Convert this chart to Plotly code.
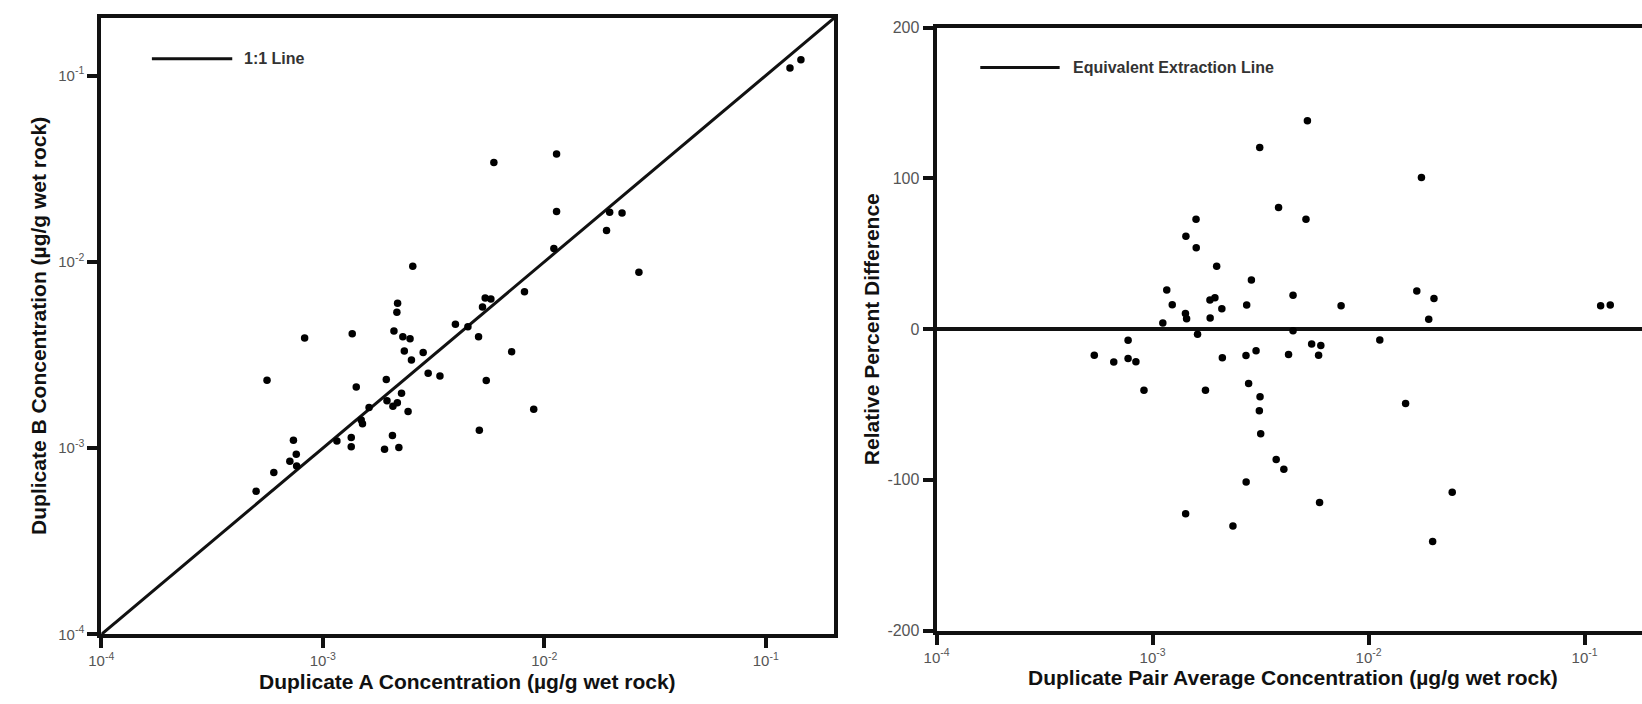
import plotly.graph_objects as go

# ---- Duplicate extraction results (µg/g wet rock) ----
dup_a = [5.0e-4, 6.01e-4, 7.10e-4, 7.62e-4, 7.59e-4, 7.37e-4, 5.60e-4, 8.28e-4,
         1.158e-3, 1.344e-3, 1.344e-3, 1.358e-3, 1.416e-3, 1.491e-3, 1.511e-3, 1.618e-3,
         1.900e-3, 1.935e-3, 1.949e-3, 2.063e-3, 2.073e-3, 2.171e-3, 2.205e-3, 2.267e-3,
         2.427e-3, 2.095e-3, 2.176e-3, 2.160e-3, 2.298e-3, 2.477e-3, 2.334e-3, 2.513e-3,
         2.548e-3, 2.839e-3, 2.99e-3, 3.38e-3, 3.97e-3, 4.52e-3, 5.05e-3, 5.09e-3,
         5.26e-3, 5.41e-3, 5.74e-3, 5.47e-3, 5.92e-3, 7.12e-3, 8.14e-3, 8.96e-3,
         1.105e-2, 1.136e-2, 1.136e-2, 1.91e-2, 1.973e-2, 2.244e-2, 2.674e-2, 0.1286, 0.1441]
dup_b = [5.87e-4, 7.40e-4, 8.52e-4, 8.02e-4, 9.27e-4, 1.104e-3, 2.314e-3, 3.90e-3,
         1.093e-3, 1.141e-3, 1.017e-3, 4.11e-3, 2.127e-3, 1.418e-3, 1.354e-3, 1.652e-3,
         9.88e-4, 2.333e-3, 1.797e-3, 1.169e-3, 1.678e-3, 1.754e-3, 1.009e-3, 1.971e-3,
         1.574e-3, 4.26e-3, 5.99e-3, 5.37e-3, 3.963e-3, 3.87e-3, 3.32e-3, 2.97e-3,
         9.46e-3, 3.26e-3, 2.527e-3, 2.437e-3, 4.63e-3, 4.49e-3, 3.96e-3, 1.249e-3,
         5.72e-3, 6.40e-3, 6.31e-3, 2.306e-3, 3.41e-2, 3.29e-3, 6.90e-3, 1.616e-3,
         1.179e-2, 3.79e-2, 1.864e-2, 1.474e-2, 1.845e-2, 1.83e-2, 8.80e-3, 0.1099, 0.1214]

# ---- Pair average concentration and relative percent difference ----
pair_avg = [5.37e-4, 6.61e-4, 7.70e-4, 8.37e-4, 7.70e-4, 9.12e-4, 1.115e-3, 1.163e-3,
            1.233e-3, 1.419e-3, 1.437e-3, 1.426e-3, 1.589e-3, 1.592e-3, 1.615e-3, 1.422e-3,
            1.757e-3, 1.843e-3, 1.943e-3, 1.847e-3, 1.980e-3, 2.092e-3, 2.103e-3, 2.355e-3,
            2.726e-3, 2.706e-3, 3.013e-3, 2.783e-3, 2.867e-3, 3.133e-3, 3.144e-3, 3.12e-3,
            3.166e-3, 2.711e-3, 3.735e-3, 4.052e-3, 3.83e-3, 4.26e-3, 4.47e-3, 4.47e-3,
            5.13e-3, 5.21e-3, 5.45e-3, 6.01e-3, 5.87e-3, 5.93e-3, 7.46e-3, 1.127e-2,
            1.484e-2, 1.672e-2, 1.757e-2, 1.899e-2, 2.008e-2, 1.980e-2, 2.439e-2, 0.1187, 0.1315]
rel_pct_diff = [-17.3, -21.8, -19.5, -21.7, -7.4, -40.6, 4.1, 25.9,
                16.2, 10.4, 6.9, 61.5, 72.8, 54.0, -3.4, -122.5,
                -40.6, 19.2, 20.7, 7.3, 41.6, 13.4, -19.1, -130.7,
                15.9, -17.5, -14.4, -36.1, 32.6, 120.4, -44.9, -54.2,
                -69.4, -101.4, -86.5, -93.0, 80.7, -16.8, 22.5, -1.2,
                72.9, 138.1, -9.9, -10.9, -17.3, -115.0, 15.5, -7.2,
                -49.4, 25.2, 100.5, 6.5, 20.3, -140.9, -108.3, 15.5, 16.0]

# ---- Axis extents and ticks ----
conc_range_log = [-4, -0.69]          # log10 limits, scatter panel
avg_range_log = [-4, -0.734]          # log10 limits, difference panel
rpd_range = [-200, 200]
log_ticks = [1e-4, 1e-3, 1e-2, 1e-1]
log_tick_text = ["10<sup>-4</sup>", "10<sup>-3</sup>", "10<sup>-2</sup>", "10<sup>-1</sup>"]
rpd_ticks = [-200, -100, 0, 100, 200]
rpd_tick_text = ["-200", "-100", "0", "100", "200"]

W, H = 1642, 704
FONT = "Arial, 'Liberation Sans', Helvetica, sans-serif"
TICK_GREY = "#555555"
INK = "#111111"


def fx(px):
    return px / W


def fy(py):
    return 1 - py / H


fig = go.Figure()

# 1:1 reference line
fig.add_trace(go.Scatter(
    x=[10 ** conc_range_log[0], 10 ** conc_range_log[1]],
    y=[10 ** conc_range_log[0], 10 ** conc_range_log[1]],
    mode="lines", line=dict(color=INK, width=3),
    xaxis="x", yaxis="y", showlegend=False, hoverinfo="skip"))

# Duplicate A vs Duplicate B
fig.add_trace(go.Scatter(
    x=dup_a, y=dup_b, mode="markers",
    marker=dict(color="black", size=7.5, line=dict(width=0)),
    xaxis="x", yaxis="y", showlegend=False))

# Equivalent extraction line (zero difference)
fig.add_trace(go.Scatter(
    x=[10 ** avg_range_log[0], 10 ** avg_range_log[1]], y=[0, 0],
    mode="lines", line=dict(color=INK, width=4),
    xaxis="x2", yaxis="y2", showlegend=False, hoverinfo="skip"))

# Relative percent difference vs pair average
fig.add_trace(go.Scatter(
    x=pair_avg, y=rel_pct_diff, mode="markers",
    marker=dict(color="black", size=7.5, line=dict(width=0)),
    xaxis="x2", yaxis="y2", showlegend=False))

axis_common = dict(
    showgrid=False, zeroline=False, showline=True, linecolor=INK, linewidth=4,
    ticks="outside", ticklen=10, tickwidth=4, tickcolor=INK,
    tickfont=dict(family=FONT, size=15, color=TICK_GREY),
)

fig.update_layout(
    width=W, height=H, autosize=False,
    margin=dict(l=0, r=0, t=0, b=0),
    paper_bgcolor="white", plot_bgcolor="white",
    font=dict(family=FONT, color=INK),
    xaxis=dict(axis_common, type="log", range=conc_range_log,
               domain=[fx(89), fx(828)], anchor="y", mirror=True,
               tickvals=log_ticks, ticktext=log_tick_text),
    yaxis=dict(axis_common, type="log", range=conc_range_log,
               domain=[fy(642), fy(10)], anchor="x", mirror=True,
               tickvals=log_ticks, ticktext=log_tick_text),
    xaxis2=dict(axis_common, type="log", range=avg_range_log,
                domain=[fx(931), 1.0], anchor="y2", mirror=True,
                tickvals=log_ticks, ticktext=log_tick_text),
    yaxis2=dict(axis_common, range=rpd_range,
                domain=[fy(638), fy(20)], anchor="x2", mirror=False,
                tickvals=rpd_ticks, ticktext=rpd_tick_text,
                tickfont=dict(family=FONT, size=16, color=TICK_GREY)),
)

title_font = dict(family=FONT, size=21, color=INK)
annotations = [
    dict(text="<b>Duplicate A Concentration (µg/g wet rock)</b>",
         x=fx(458), y=fy(690), xref="paper", yref="paper",
         xanchor="center", yanchor="middle", showarrow=False, font=title_font),
    dict(text="<b>Duplicate B Concentration (µg/g wet rock)</b>",
         x=fx(25), y=fy(326), xref="paper", yref="paper", textangle=-90,
         xanchor="center", yanchor="middle", showarrow=False, font=title_font),
    dict(text="<b>Duplicate Pair Average Concentration (µg/g wet rock)</b>",
         x=fx(1290), y=fy(686), xref="paper", yref="paper",
         xanchor="center", yanchor="middle", showarrow=False, font=title_font),
    dict(text="<b>Relative Percent Difference</b>",
         x=fx(865), y=fy(329), xref="paper", yref="paper", textangle=-90,
         xanchor="center", yanchor="middle", showarrow=False, font=title_font),
    # legend labels
    dict(text="<b>1:1 Line</b>", x=fx(231), y=fy(52), xref="paper", yref="paper",
         xanchor="left", yanchor="middle", showarrow=False,
         font=dict(family=FONT, size=16, color="#333333")),
    dict(text="<b>Equivalent Extraction Line</b>", x=fx(1066), y=fy(61),
         xref="paper", yref="paper", xanchor="left", yanchor="middle",
         showarrow=False, font=dict(family=FONT, size=16, color="#333333")),
]

shapes = [
    # legend samples
    dict(type="line", xref="paper", yref="paper",
         x0=fx(140), x1=fx(221), y0=fy(52), y1=fy(52),
         line=dict(color=INK, width=3)),
    dict(type="line", xref="paper", yref="paper",
         x0=fx(975), x1=fx(1055), y0=fy(61), y1=fy(61),
         line=dict(color=INK, width=3)),
]

fig.update_layout(annotations=annotations, shapes=shapes)

fig.write_html("out.html")
